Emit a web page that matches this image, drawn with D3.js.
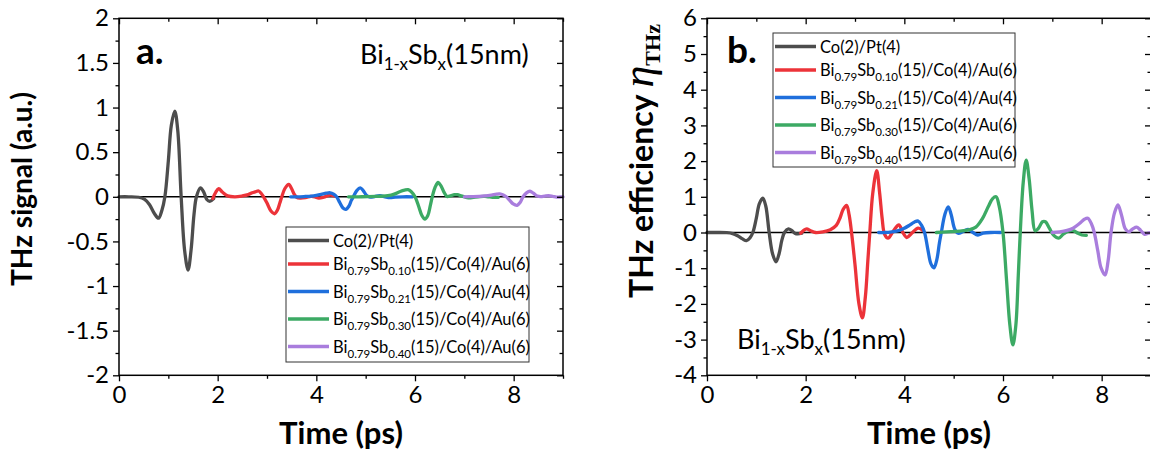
<!DOCTYPE html>
<html><head><meta charset="utf-8">
<script src="https://cdn.jsdelivr.net/npm/d3@7"></script>
<style>
html,body{margin:0;padding:0;background:#fff;}
svg{display:block;}
text{font-family:Lato,"Open Sans",sans-serif;fill:#000;}
</style></head>
<body><svg id="chart" width="1150" height="455"></svg>
<script>
// ---------------- DATA ----------------
const seriesNames = ["Co(2)/Pt(4)", "Bi0.79Sb0.10(15)/Co(4)/Au(6)", "Bi0.79Sb0.21(15)/Co(4)/Au(4)", "Bi0.79Sb0.30(15)/Co(4)/Au(6)", "Bi0.79Sb0.40(15)/Co(4)/Au(6)"];
const seriesColors = ["#4d4d4d", "#ec3339", "#1f6fdc", "#3caa64", "#a97ddd"];

// Co(2)/Pt(4)
const timeCoPt = [0, 0.2, 0.4, 0.52, 0.62, 0.72, 0.8, 0.87, 0.93, 1.0, 1.06, 1.13, 1.19, 1.26, 1.33, 1.4, 1.46, 1.52, 1.57, 1.65, 1.72, 1.78, 1.84, 1.92];
const signalCoPt = [0, 0, -0.005, -0.03, -0.09, -0.19, -0.24, -0.15, 0.0, 0.4, 0.8, 0.96, 0.75, 0.0, -0.6, -0.82, -0.6, -0.2, 0.0, 0.10, 0.05, -0.03, -0.05, -0.02];
const effCoPt = [0, 0, -0.005, -0.03, -0.09, -0.18, -0.23, -0.15, 0.0, 0.4, 0.8, 0.96, 0.75, 0.0, -0.6, -0.82, -0.6, -0.2, 0.0, 0.10, 0.05, -0.02, -0.04, -0.02];

// Bi0.79Sb0.10
const timeSb10 = [1.9, 1.96, 2.02, 2.1, 2.2, 2.35, 2.5, 2.62, 2.7, 2.76, 2.83, 2.88, 2.93, 3.0, 3.08, 3.15, 3.21, 3.26, 3.3, 3.36, 3.44, 3.5, 3.55, 3.6, 3.67, 3.78, 3.89, 3.97, 4.05, 4.15, 4.28, 4.38];
const signalSb10 = [-0.02, 0.05, 0.09, 0.05, 0.01, 0.0, 0.01, 0.025, 0.045, 0.055, 0.065, 0.04, 0.0, -0.07, -0.16, -0.19, -0.15, -0.07, 0.0, 0.09, 0.14, 0.09, 0.03, -0.005, -0.015, -0.01, 0.005, 0.0, -0.015, -0.005, 0.02, 0.005];
const effSb10 = [-0.02, 0.06, 0.1, 0.05, 0.0, 0.02, 0.08, 0.2, 0.42, 0.65, 0.76, 0.5, 0.0, -0.9, -2.0, -2.39, -1.8, -0.8, 0.0, 1.1, 1.73, 1.1, 0.4, -0.05, -0.16, 0.05, 0.21, 0.0, -0.14, -0.02, 0.12, 0.05];

// Bi0.79Sb0.21
const timeSb21 = [3.48, 3.6, 3.75, 3.9, 4.0, 4.1, 4.2, 4.28, 4.35, 4.41, 4.48, 4.54, 4.6, 4.66, 4.71, 4.75, 4.82, 4.89, 4.95, 5.02, 5.09, 5.18, 5.29, 5.39, 5.49, 5.6, 5.75, 5.95];
const signalSb21 = [0, 0, 0.003, 0.008, 0.016, 0.027, 0.04, 0.045, 0.03, 0.0, -0.07, -0.125, -0.14, -0.105, -0.04, 0.0, 0.07, 0.10, 0.07, 0.015, -0.003, 0.003, 0.012, 0.0, -0.01, -0.003, 0.0, 0.0];
const effSb21 = [0, 0, 0.02, 0.06, 0.12, 0.2, 0.29, 0.32, 0.2, 0.0, -0.5, -0.88, -0.99, -0.75, -0.3, 0.0, 0.5, 0.72, 0.5, 0.1, -0.02, 0.02, 0.09, 0.0, -0.07, -0.02, 0.0, 0.0];

// Bi0.79Sb0.30
const timeSb30 = [4.65, 4.85, 5.05, 5.2, 5.32, 5.45, 5.58, 5.7, 5.79, 5.86, 5.92, 6.0, 6.07, 6.14, 6.2, 6.26, 6.31, 6.35, 6.41, 6.47, 6.53, 6.59, 6.65, 6.72, 6.8, 6.86, 6.94, 7.03, 7.13, 7.22, 7.32, 7.42, 7.52, 7.6, 7.69];
const signalSb30 = [0, 0, 0.002, 0.004, 0.006, 0.012, 0.03, 0.06, 0.075, 0.08, 0.06, 0.0, -0.1, -0.21, -0.25, -0.21, -0.1, 0.0, 0.11, 0.16, 0.12, 0.05, 0.004, 0.01, 0.024, 0.024, 0.01, -0.006, -0.013, -0.004, 0.003, 0.004, -0.002, -0.006, -0.006];
const effSb30 = [0, 0.02, 0.03, 0.05, 0.08, 0.15, 0.38, 0.72, 0.95, 1.0, 0.75, 0.0, -1.3, -2.6, -3.15, -2.6, -1.2, 0.0, 1.4, 2.03, 1.5, 0.6, 0.05, 0.12, 0.3, 0.3, 0.12, -0.08, -0.16, -0.05, 0.04, 0.05, -0.02, -0.07, -0.08];

// Bi0.79Sb0.40
const timeSb40 = [7.0, 7.15, 7.3, 7.42, 7.55, 7.65, 7.72, 7.79, 7.85, 7.92, 7.99, 8.07, 8.13, 8.19, 8.26, 8.33, 8.4, 8.48, 8.55, 8.63, 8.71, 8.79, 8.87, 8.94, 9.0];
const signalSb40 = [0, 0.002, 0.005, 0.01, 0.02, 0.03, 0.032, 0.02, 0.0, -0.04, -0.08, -0.095, -0.064, 0.0, 0.044, 0.062, 0.04, 0.008, 0.002, 0.008, 0.012, 0.005, -0.004, -0.002, 0];
const effSb40 = [0, 0.02, 0.06, 0.12, 0.25, 0.37, 0.40, 0.25, 0.0, -0.5, -1.0, -1.19, -0.8, 0.0, 0.55, 0.77, 0.5, 0.1, 0.02, 0.1, 0.15, 0.06, -0.05, -0.02, 0];

const xTicks = [0, 2, 4, 6, 8];
const xMinorTicks = [1, 3, 5, 7, 9];
const yTicksA = [-2, -1.5, -1, -0.5, 0, 0.5, 1, 1.5, 2];
const yTickLabelsA = ["-2", "-1.5", "-1", "-0.5", "0", "0.5", "1", "1.5", "2"];
const yMinorTicksA = [-1.75, -1.25, -0.75, -0.25, 0.25, 0.75, 1.25, 1.75];
const yTicksB = [-4, -3, -2, -1, 0, 1, 2, 3, 4, 5, 6];
const yTickLabelsB = ["-4", "-3", "-2", "-1", "0", "1", "2", "3", "4", "5", "6"];
const yMinorTicksB = [-3.5, -2.5, -1.5, -0.5, 0.5, 1.5, 2.5, 3.5, 4.5, 5.5];

// ---------------- DRAW ----------------
const svg = d3.select("#chart");
const times = [timeCoPt, timeSb10, timeSb21, timeSb30, timeSb40];
const signals = [signalCoPt, signalSb10, signalSb21, signalSb30, signalSb40];
const effs = [effCoPt, effSb10, effSb21, effSb30, effSb40];

function labelParts(name) {
  const m = name.match(/^Bi([\d.]+)Sb([\d.]+)(.*)$/);
  if (!m) return [[name, false]];
  return [["Bi", false], [m[1], true], ["Sb", false], [m[2], true], [m[3], false]];
}

function drawPanel(opt) {
  const g = svg.append("g");
  const x = d3.scaleLinear().domain([0, 9]).range([opt.left, opt.right]);
  const y = d3.scaleLinear().domain(opt.yDomain).range([opt.bottom, opt.top]);

  g.append("line").attr("x1", x(0)).attr("x2", x(9)).attr("y1", y(0)).attr("y2", y(0))
    .attr("stroke", "#000").attr("stroke-width", 1.5);

  const line = d3.line().x(d => x(d[0])).y(d => y(d[1])).curve(d3.curveCatmullRom.alpha(0.5));
  for (let i = 0; i < 5; i++) {
    const pts = times[i].map((t, k) => [t, opt.values[i][k]]);
    g.append("path").attr("d", line(pts)).attr("fill", "none")
      .attr("stroke", seriesColors[i]).attr("stroke-width", 3.3)
      .attr("stroke-linejoin", "round").attr("stroke-linecap", "round");
  }

  const styleAxis = sel => { sel.select(".domain").remove(); sel.selectAll("line").attr("stroke", "#000").attr("stroke-width", 1.3);
    sel.selectAll("text").attr("font-family", "Lato").attr("font-size", 24).attr("fill", "#000"); };
  g.append("g").attr("transform", `translate(0,${opt.bottom})`)
    .call(d3.axisBottom(x).tickValues(xTicks).tickSize(6).tickPadding(5).tickFormat(d => String(d))).call(styleAxis);
  g.append("g").attr("transform", `translate(0,${opt.bottom})`)
    .call(d3.axisBottom(x).tickValues(xMinorTicks).tickSize(3.5).tickFormat("")).call(styleAxis);
  g.append("g").attr("transform", `translate(0,${opt.top})`)
    .call(d3.axisTop(x).tickValues(xTicks).tickSize(-6).tickFormat("")).call(styleAxis);
  g.append("g").attr("transform", `translate(0,${opt.top})`)
    .call(d3.axisTop(x).tickValues(xMinorTicks).tickSize(-3.5).tickFormat("")).call(styleAxis);
  g.append("g").attr("transform", `translate(${opt.left},0)`)
    .call(d3.axisLeft(y).tickValues(opt.yTicks).tickSize(6).tickPadding(4)
      .tickFormat((d, i) => opt.yTickLabels[i])).call(styleAxis);
  g.append("g").attr("transform", `translate(${opt.left},0)`)
    .call(d3.axisLeft(y).tickValues(opt.yMinor).tickSize(3.5).tickFormat("")).call(styleAxis);
  g.append("g").attr("transform", `translate(${opt.right},0)`)
    .call(d3.axisRight(y).tickValues(opt.yTicks).tickSize(-6).tickFormat("")).call(styleAxis);
  g.append("g").attr("transform", `translate(${opt.right},0)`)
    .call(d3.axisRight(y).tickValues(opt.yMinor).tickSize(-3.5).tickFormat("")).call(styleAxis);

  g.append("rect").attr("x", opt.left).attr("y", opt.top).attr("width", opt.right - opt.left)
    .attr("height", opt.bottom - opt.top).attr("fill", "none").attr("stroke", "#000").attr("stroke-width", 1.5);

  g.append("text").attr("x", (opt.left + opt.right) / 2).attr("y", 444).attr("text-anchor", "middle")
    .attr("font-weight", 700).attr("font-size", 31).text("Time (ps)");

  g.append("text").attr("x", opt.letterX).attr("y", opt.letterY).attr("font-weight", 700)
    .attr("font-size", 37).text(opt.letter);

  const bt = g.append("text").attr("x", opt.bsX).attr("y", opt.bsY).attr("font-size", 27);
  bt.append("tspan").text("Bi");
  bt.append("tspan").attr("font-size", 17).attr("dy", 6).text("1-x");
  bt.append("tspan").attr("dy", -6).text("Sb");
  bt.append("tspan").attr("font-size", 17).attr("dy", 6).text("x");
  bt.append("tspan").attr("dy", -6).text("(15nm)");

  const L = opt.legend;
  const lg = g.append("g");
  lg.append("rect").attr("x", L.x).attr("y", L.y).attr("width", L.w).attr("height", L.h)
    .attr("fill", "#fff").attr("stroke", "#333").attr("stroke-width", 1);
  seriesNames.forEach((name, i) => {
    const cy = L.y + 13.5 + (i > 0 ? 23.5 + (i - 1) * 27.5 : 0);
    lg.append("line").attr("x1", L.x + 2).attr("x2", L.x + 43).attr("y1", cy).attr("y2", cy)
      .attr("stroke", seriesColors[i]).attr("stroke-width", 3.3);
    const t = lg.append("text").attr("x", L.x + 47).attr("y", cy + 6).attr("font-size", 16.5);
    let shifted = false;
    labelParts(name).forEach(([s, sub]) => {
      const ts = t.append("tspan").text(s);
      if (sub) { ts.attr("font-size", 11.5).attr("dy", shifted ? 0 : 5); shifted = true; }
      else { if (shifted) ts.attr("dy", -5); shifted = false; }
    });
  });
  return g;
}

drawPanel({
  left: 119, right: 563, top: 18.3, bottom: 375.3, yDomain: [-2, 2],
  yTicks: yTicksA, yTickLabels: yTickLabelsA, yMinor: yMinorTicksA, values: signals,
  letter: "a.", letterX: 136, letterY: 64, bsX: 360, bsY: 64,
  legend: { x: 286, y: 227, w: 243, h: 135 }
});
drawPanel({
  left: 707, right: 1151, top: 18.3, bottom: 375.3, yDomain: [-4, 6],
  yTicks: yTicksB, yTickLabels: yTickLabelsB, yMinor: yMinorTicksB, values: effs,
  letter: "b.", letterX: 727, letterY: 63, bsX: 737, bsY: 349,
  legend: { x: 773, y: 33, w: 242, h: 134 }
});

svg.append("text").attr("transform", "translate(32,189) rotate(-90)").attr("text-anchor", "middle")
  .attr("font-weight", 700).attr("font-size", 28).text("THz signal (a.u.)");
const yb = svg.append("text").attr("transform", "translate(653,161) rotate(-90)").attr("text-anchor", "middle")
  .attr("font-weight", 700).attr("font-size", 32);
yb.append("tspan").text("THz efficiency ");
yb.append("tspan").attr("font-family", "Liberation Serif").attr("font-style", "italic").attr("font-weight", 400)
  .attr("font-size", 44).text("η");
yb.append("tspan").attr("font-family", "Liberation Serif").attr("font-weight", 700)
  .attr("font-size", 22).attr("dy", 7).text("THz");
</script></body></html>
